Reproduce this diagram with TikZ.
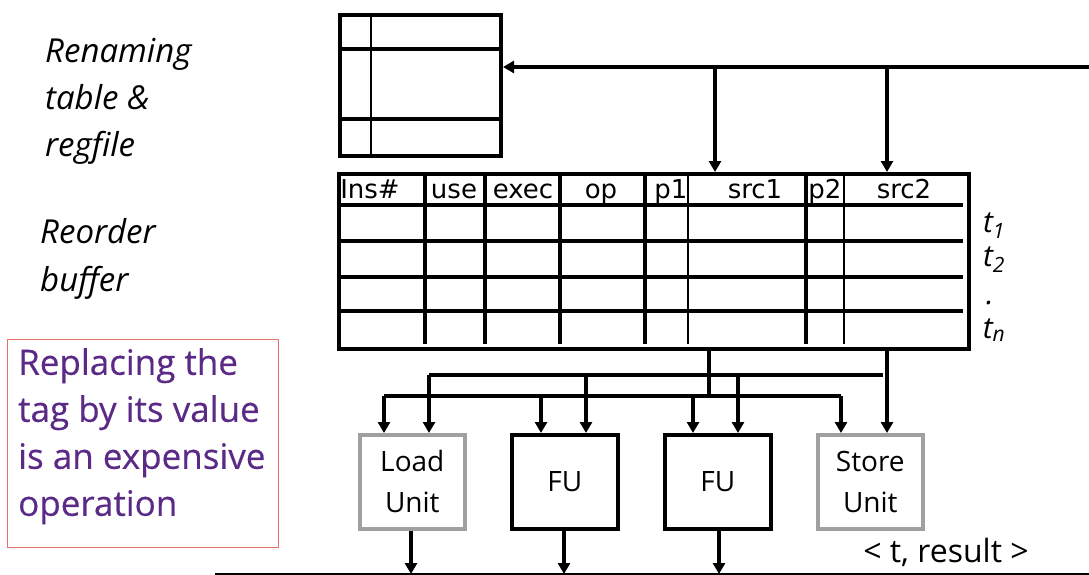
\documentclass[tikz,border=0pt]{standalone}
\usepackage{fontspec}
\setmainfont{Open Sans}
\newfontfamily\robf{DejaVu Sans}
\newfontfamily\itf{Open Sans}
\newfontfamily\purpf[FakeBold=0.4]{Open Sans}
\usetikzlibrary{arrows.meta}
\definecolor{purp}{HTML}{5B2A86}
\definecolor{redb}{HTML}{E8706A}
\definecolor{grayb}{HTML}{A0A0A0}
\tikzset{
  thickln/.style={line width=4pt},
  thinln/.style={line width=1.8pt},
  arr/.style={line width=3.4pt,-{Triangle[length=11pt,width=12pt]}},
  ln/.style={line width=3.4pt},
  hdr/.style={font=\robf\fontsize{26}{30}\selectfont,anchor=base,inner sep=0pt},
  unitgray/.style={draw=grayb,line width=3.6pt,minimum width=105pt,minimum height=94pt,inner sep=0pt,align=center,font=\fontsize{28}{41}\selectfont},
  unitblack/.style={draw=black,line width=3.6pt,minimum width=106pt,minimum height=94pt,inner sep=0pt,align=center,font=\fontsize{28}{41}\selectfont},
  lbl/.style={anchor=base west,align=left,inner sep=0pt,font=\itf\itshape\fontsize{33}{48}\selectfont},
  tl/.style={anchor=base,inner sep=0pt,font=\itf\itshape\fontsize{30}{34}\selectfont}
}
\begin{document}
\begin{tikzpicture}[x=1pt,y=-1pt]
\useasboundingbox (0,0) rectangle (1089,575);
% renaming table
\node[draw,thickln,minimum width=161pt,minimum height=141pt,inner sep=0pt,anchor=north west] (rt) at (338,13) {};
\draw[ln] (rt.west|-0,49) -- (rt.east|-0,49);
\draw[ln] (rt.west|-0,119) -- (rt.east|-0,119);
\draw[thinln] (371,13) -- (371,154);
% reorder buffer
\node[draw,thickln,minimum width=630pt,minimum height=175pt,inner sep=0pt,anchor=north west] (rob) at (337,172) {};
\foreach \yy in {205,241,277,311} \draw[ln] (rob.west|-0,\yy) -- (963,\yy);
\foreach \xx in {425,485,560,645,806} \draw[ln] (\xx,172) -- (\xx,344);
\foreach \xx in {688,844} \draw[thinln] (\xx,172) -- (\xx,344);
\node[hdr] (h1) at (370,198) {Ins\#};
\node[hdr] (h2) at (454,198) {use};
\node[hdr] (h3) at (523,198) {exec};
\node[hdr] (h4) at (601,198) {op};
\node[hdr] (h5) at (671,198) {p1};
\node[hdr] (h6) at (755,198) {src1};
\node[hdr] (h7) at (825,198) {p2};
\node[hdr] (h8) at (904,198) {src2};
\node[tl] (t1) at (994,232) {t\textsubscript{1}};
\node[tl] (t2) at (994,266) {t\textsubscript{2}};
\node[tl] (t3) at (990,304) {.};
\node[tl] (t4) at (994,338) {t\textsubscript{n}};
% left labels
\node[lbl] (l1a) at (45,63) {Renaming};
\node[lbl] (l1b) at (45,110) {table \&};
\node[lbl] (l1c) at (45,157) {regfile};
\node[lbl] (l2a) at (40,243) {Reorder};
\node[lbl] (l2b) at (40,291) {buffer};
\node[draw=redb,line width=1.2pt,minimum width=271pt,minimum height=208pt,anchor=north west,inner sep=0pt] (note) at (7,339) {};
\node[anchor=north west,align=left,inner sep=0pt,text=purp,font=\purpf\fontsize{35}{47}\selectfont] (notetxt) at (18,348) {Replacing the\\tag by its value\\is an expensive\\operation};
% top bus
\coordinate (busR) at (1089,67);
\coordinate (d1) at (715,67);
\coordinate (d2) at (887,67);
\draw[arr] (busR) -- (busR-|rt.east);
\draw[arr] (d1) -- (d1|-rob.north);
\draw[arr] (d2) -- (d2|-rob.north);
% units
\node[unitgray,anchor=north west] (load) at (358,433) {Load\\Unit};
\node[unitblack,anchor=north west] (fu1) at (510,433) {FU};
\node[unitblack,anchor=north west,minimum width=106pt] (fu2) at (663,433) {\raisebox{-6pt}{FU}};
\node[unitgray,anchor=north west] (store) at (816,433) {Store\\Unit};
% distribution
\coordinate (s1) at (709,347);
\coordinate (s2) at (887,347);
\coordinate (ub) at (429,375);
\coordinate (lb) at (384,396);
\draw[ln] (s1) -- (709,396);
\draw[ln] (ub) -- (883,375);
\draw[ln] (lb) -- (841,396);
\draw[arr] (s2) -- (s2|-store.north);
\draw[arr] (lb) -- (lb|-load.north);
\draw[arr] (ub) -- (ub|-load.north);
\draw[arr] (541,396) -- (541,433);
\draw[arr] (586,375) -- (586,433);
\draw[arr] (693,396) -- (693,433);
\draw[arr] (738,375) -- (738,433);
\draw[arr] (841,396) -- (841,433);
% result bus
\coordinate (rbL) at (215,574);
\coordinate (rbR) at (1089,574);
\draw[line width=2.6pt] (rbL) -- (rbR);
\draw[arr] (load.south-|411,0) -- (411,574);
\draw[arr] (fu1.south-|564,0) -- (564,574);
\draw[arr] (fu2.south-|719,0) -- (719,574);
\node[anchor=base,inner sep=0pt,font=\fontsize{32}{36}\selectfont] (res) at (946,562) {< t, result >};
\end{tikzpicture}
\end{document}
